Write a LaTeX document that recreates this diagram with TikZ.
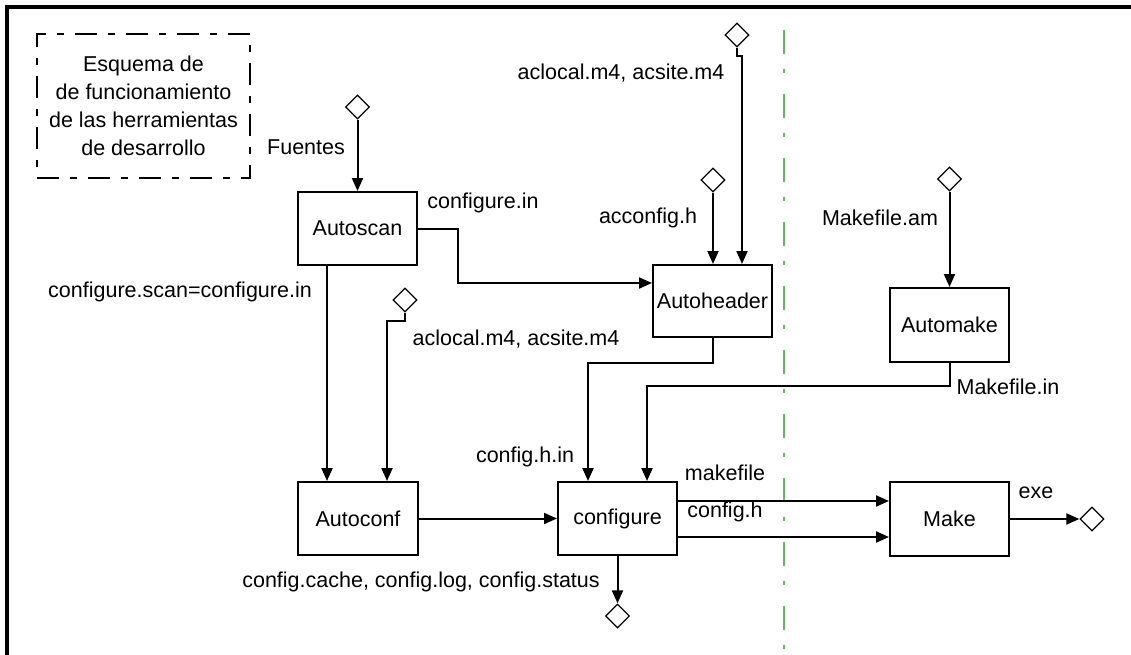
\documentclass[tikz,border=0pt]{standalone}
\usepackage{fontspec}
\setmainfont{Liberation Sans}
\usetikzlibrary{shapes.geometric,arrows.meta,calc}
\definecolor{sepgreen}{RGB}{90,190,90}
\begin{document}
\begin{tikzpicture}[x=1pt,y=-1pt,
  every node/.style={font=\fontsize{21.5}{28}\selectfont},
  tool/.style={draw,line width=2pt,rectangle,minimum width=119pt,minimum height=73pt,inner sep=0pt},
  port/.style={draw,diamond,line width=1.3pt,minimum width=24pt,minimum height=24pt,inner sep=0pt,shape aspect=1},
  lbl/.style={inner sep=0pt},
  conn/.style={line width=2pt},
  arr/.style={conn,-{Triangle[length=13pt,width=11pt]}},
  note/.style={draw,dash pattern=on 22pt off 11pt on 7pt off 11pt,line width=1.8pt,minimum width=213pt,minimum height=144pt,align=center,inner sep=0pt}
]
\useasboundingbox (0,0) rectangle (1131,655);
% frame
\draw[line width=4pt] (7,655) -- (7,7) -- (1131,7);
% separator
\draw[sepgreen,line width=1.6pt,dash pattern=on 24pt off 15pt on 4pt off 21pt] (784,30) -- (784,655);

% note
\node[note] (note) at (143.5,106) {Esquema de\\de funcionamiento\\de las herramientas\\de desarrollo};

% tools
\node[tool] (Autoscan) at (357.5,228.5) {Autoscan};
\node[tool,minimum height=72pt] (Autoheader) at (712.5,301) {Autoheader};
\node[tool,minimum height=74pt] (Automake) at (949.5,325) {Automake};
\node[tool,minimum width=120pt] (Autoconf) at (358,518.5) {Autoconf};
\node[tool] (configure) at (617.5,518.5) {configure};
\node[tool,minimum height=74pt] (Make) at (949.5,519) {Make};

% ports
\node[port] (dF) at (357.5,107) {};
\node[port] (dA1) at (737,35) {};
\node[port] (dAc) at (713,180) {};
\node[port] (dAm) at (949.5,179) {};
\node[port] (dA2) at (405,300) {};
\node[port] (dCfg) at (617.5,616) {};
\node[port] (dExe) at (1092,519) {};

% labels
\node[lbl] (lFuentes) at (306,147) {Fuentes};
\node[lbl] (lCfgIn) at (483,203) {configure.in};
\node[lbl] (lAcl1) at (621,73) {aclocal.m4, acsite.m4};
\node[lbl] (lAcc) at (648,218) {acconfig.h};
\node[lbl] (lMam) at (880,218) {Makefile.am};
\node[lbl] (lMin) at (1008,387) {Makefile.in};
\node[lbl] (lScan) at (180,292) {configure.scan=configure.in};
\node[lbl] (lAcl2) at (516,339) {aclocal.m4, acsite.m4};
\node[lbl] (lChin) at (525,457) {config.h.in};
\node[lbl] (lMkf) at (725,473) {makefile};
\node[lbl] (lCh) at (725,512) {config.h};
\node[lbl] (lExe) at (1036,493) {exe};
\node[lbl] (lCache) at (421,582) {config.cache, config.log, config.status};

% connectors
\draw[arr] (dF.south) -- (Autoscan.north);
\draw[arr] (Autoscan.east) -- ++(40pt,0pt) |- ([yshift=18pt]Autoheader.west);
\draw[arr] ([xshift=30pt]Autoscan.south west) -- ([xshift=30pt]Autoconf.north west);
\draw[arr] (dA1.south) -- ++(0pt,-8pt) -| ([xshift=29.5pt]Autoheader.north);
\draw[arr] (dAc.south) -- (dAc.south |- Autoheader.north);
\draw[arr] (dAm.south) -- (Automake.north);
\draw[arr] (dA2.south) -- ++(0pt,-8pt) -| ([xshift=29pt]Autoconf.north);
\draw[arr] (Autoheader.south) -- ++(0pt,-25pt) -| ([xshift=-29.5pt]configure.north);
\draw[arr] (Automake.south) -- ++(0pt,-23pt) -| ([xshift=29.5pt]configure.north);
\draw[arr] (Autoconf.east) -- (configure.west);
\draw[arr] ([yshift=17.5pt]configure.east) -- ([yshift=17.5pt]configure.east -| Make.west);
\draw[arr] ([yshift=-18.5pt]configure.east) -- ([yshift=-18.5pt]configure.east -| Make.west);
\draw[arr] (Make.east) -- (dExe.west);
\draw[arr] (configure.south) -- (dCfg.north);
\end{tikzpicture}
\end{document}
